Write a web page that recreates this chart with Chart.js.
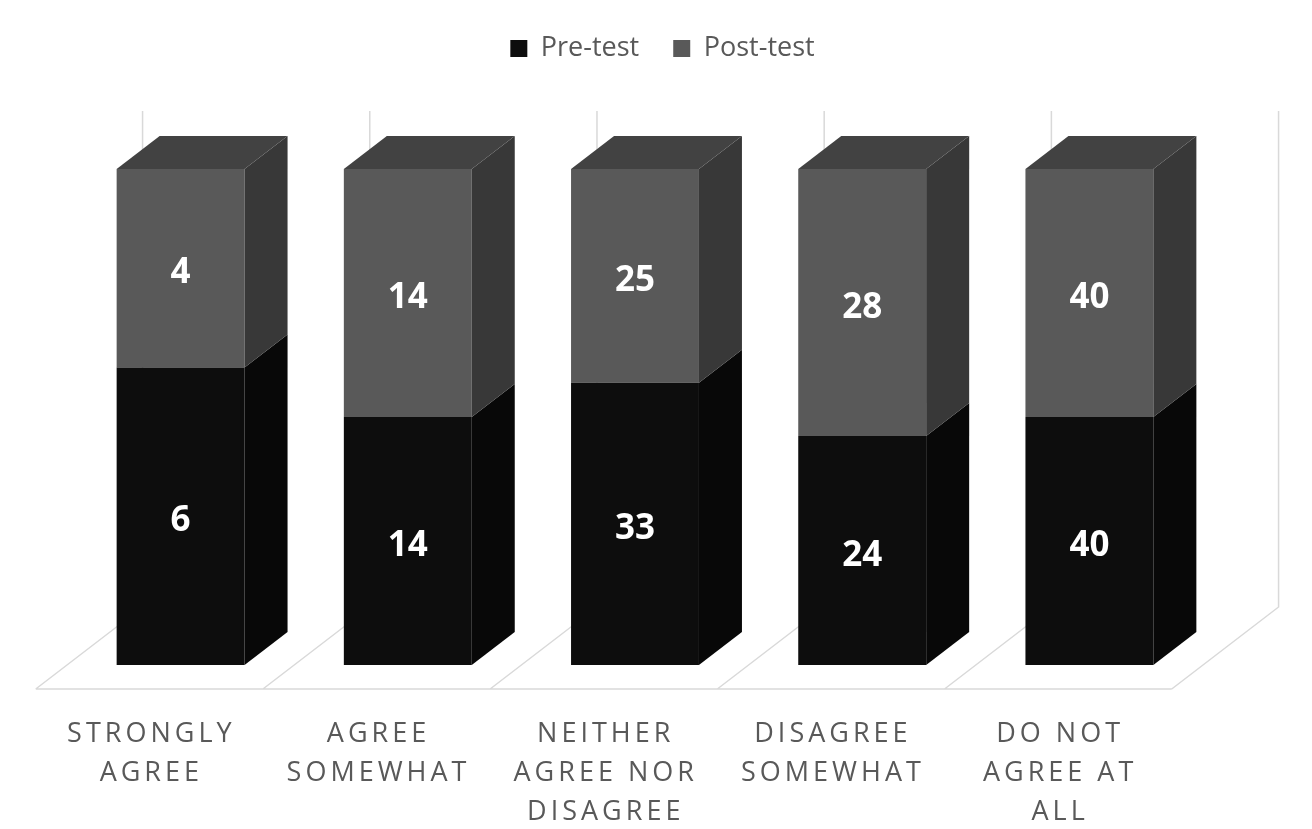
<!DOCTYPE html>
<html>
<head>
<meta charset="utf-8">
<title>Pre-test / Post-test</title>
<script src="https://cdn.jsdelivr.net/npm/chart.js@4.4.0/dist/chart.umd.min.js"></script>
<style>
  html, body { margin: 0; padding: 0; background: #ffffff; }
  canvas { display: block; }
</style>
</head>
<body>
<canvas id="chart" width="1312" height="829"></canvas>
<script>
// categories (one array per multi-line label)
const categories = [
  ["STRONGLY", "AGREE"],
  ["AGREE", "SOMEWHAT"],
  ["NEITHER", "AGREE NOR", "DISAGREE"],
  ["DISAGREE", "SOMEWHAT"],
  ["DO NOT", "AGREE AT", "ALL"],
];
const preTest = [6, 14, 33, 24, 40];
const postTest = [4, 14, 25, 28, 40];
const seriesNames = ["Pre-test", "Post-test"];

// columns are 100% stacked, so every value becomes a share of its column
const totals = preTest.map((v, i) => v + postTest[i]);
const share = (arr) => arr.map((v, i) => (v / totals[i]) * 100);

// fake 3D settings
const DEPTH_X = 43;
const DEPTH_Y = 33;
const SLANT = DEPTH_X / DEPTH_Y;
const FLOOR_FRONT = 24; // floor edge in front of the bars
const FLOOR_BACK = 58; // back wall behind the bars
const GRID_COLOR = "#d9d9d9";
const TEXT_COLOR = "#595959";

// leave room between the legend and the plot
const legendGap = {
  id: "legendGap",
  beforeLayout(chart) {
    const legend = chart.legend;
    if (legend && !legend._gapAdded) {
      const fit = legend.fit;
      legend.fit = function () {
        fit.call(this);
        this.height += 97;
      };
      legend._gapAdded = true;
    }
  },
};

// back wall and floor, drawn behind the columns
const wallAndFloor = {
  id: "wallAndFloor",
  beforeDatasetsDraw(chart) {
    const { ctx, chartArea: a, scales } = chart;
    const x = scales.x;
    const step = x.getPixelForValue(1) - x.getPixelForValue(0);
    const bounds = [];
    for (let i = 0; i <= categories.length; i++) {
      bounds.push(x.getPixelForValue(0) - step / 2 + i * step);
    }
    const backY = a.bottom - FLOOR_BACK;
    const frontY = a.bottom + FLOOR_FRONT;
    const backDX = FLOOR_BACK * SLANT;
    const frontDX = FLOOR_FRONT * SLANT;

    ctx.save();
    ctx.strokeStyle = GRID_COLOR;
    ctx.lineWidth = 1.5;
    ctx.beginPath();
    bounds.forEach((b) => {
      // vertical line on the back wall
      ctx.moveTo(b + backDX, a.top - FLOOR_BACK);
      ctx.lineTo(b + backDX, backY);
      // floor line running to the front
      ctx.lineTo(b - frontDX, frontY);
    });
    // front edge of the floor
    ctx.moveTo(bounds[0] - frontDX, frontY);
    ctx.lineTo(bounds[bounds.length - 1] - frontDX, frontY);
    ctx.stroke();
    ctx.restore();
  },
};

// side and top faces of the columns + value labels
const columns3d = {
  id: "columns3d",
  afterDatasetsDraw(chart) {
    const { ctx } = chart;
    const datasets = chart.data.datasets;
    const lastIndex = datasets.length - 1;

    ctx.save();
    datasets.forEach((ds, d) => {
      const meta = chart.getDatasetMeta(d);
      meta.data.forEach((bar) => {
        const { x, y, base, width } = bar.getProps(["x", "y", "base", "width"], true);
        const left = x - width / 2;
        const right = x + width / 2;

        ctx.fillStyle = ds.sideColor;
        ctx.beginPath();
        ctx.moveTo(right, y);
        ctx.lineTo(right + DEPTH_X, y - DEPTH_Y);
        ctx.lineTo(right + DEPTH_X, base - DEPTH_Y);
        ctx.lineTo(right, base);
        ctx.closePath();
        ctx.fill();

        if (d === lastIndex) {
          ctx.fillStyle = ds.topColor;
          ctx.beginPath();
          ctx.moveTo(left, y);
          ctx.lineTo(left + DEPTH_X, y - DEPTH_Y);
          ctx.lineTo(right + DEPTH_X, y - DEPTH_Y);
          ctx.lineTo(right, y);
          ctx.closePath();
          ctx.fill();
        }
      });
    });

    // value labels show the counts, not the shares
    ctx.fillStyle = "#ffffff";
    ctx.font = "bold 35px 'Open Sans'";
    ctx.textAlign = "center";
    ctx.textBaseline = "middle";
    datasets.forEach((ds, d) => {
      const meta = chart.getDatasetMeta(d);
      meta.data.forEach((bar, i) => {
        const { x, y, base } = bar.getProps(["x", "y", "base"], true);
        ctx.fillText(String(ds.counts[i]), x, (y + base) / 2 + 5);
      });
    });
    ctx.restore();
  },
};

// category names under the floor, with wide letter spacing
const categoryLabels = {
  id: "categoryLabels",
  afterDraw(chart) {
    const { ctx, chartArea: a, scales } = chart;
    const x = scales.x;
    ctx.save();
    ctx.fillStyle = TEXT_COLOR;
    ctx.font = "27px 'Open Sans'";
    ctx.letterSpacing = "4px";
    ctx.textAlign = "center";
    ctx.textBaseline = "middle";
    categories.forEach((lines, i) => {
      const cx = x.getPixelForValue(i) - FLOOR_FRONT * SLANT + 2;
      lines.forEach((line, k) => {
        ctx.fillText(line, cx, a.bottom + 69 + k * 39);
      });
    });
    ctx.restore();
  },
};

new Chart(document.getElementById("chart"), {
  type: "bar",
  data: {
    labels: categories,
    datasets: [
      {
        label: seriesNames[0],
        data: share(preTest),
        counts: preTest,
        backgroundColor: "#0d0d0d",
        sideColor: "#080808",
        topColor: "#1a1a1a",
      },
      {
        label: seriesNames[1],
        data: share(postTest),
        counts: postTest,
        backgroundColor: "#595959",
        sideColor: "#383838",
        topColor: "#424242",
      },
    ],
  },
  options: {
    responsive: false,
    animation: false,
    events: [],
    categoryPercentage: 1,
    barPercentage: 0.563,
    layout: {
      padding: { left: 13, right: 0, top: 1, bottom: 164 },
    },
    plugins: {
      legend: {
        position: "top",
        labels: {
          boxWidth: 17,
          boxHeight: 17,
          padding: 34,
          color: TEXT_COLOR,
          font: { family: "'Open Sans'", size: 27 },
        },
      },
      tooltip: { enabled: false },
    },
    scales: {
      x: {
        stacked: true,
        display: false,
      },
      y: {
        stacked: true,
        min: 0,
        max: 100,
        grid: { display: false },
        border: { display: false },
        ticks: { display: false },
        afterFit: function (scale) {
          scale.width = 54;
        },
      },
      yRight: {
        position: "right",
        grid: { display: false },
        border: { display: false },
        ticks: { display: false },
        afterFit: function (scale) {
          scale.width = 109;
        },
      },
    },
  },
  plugins: [legendGap, wallAndFloor, columns3d, categoryLabels],
});
</script>
</body>
</html>
